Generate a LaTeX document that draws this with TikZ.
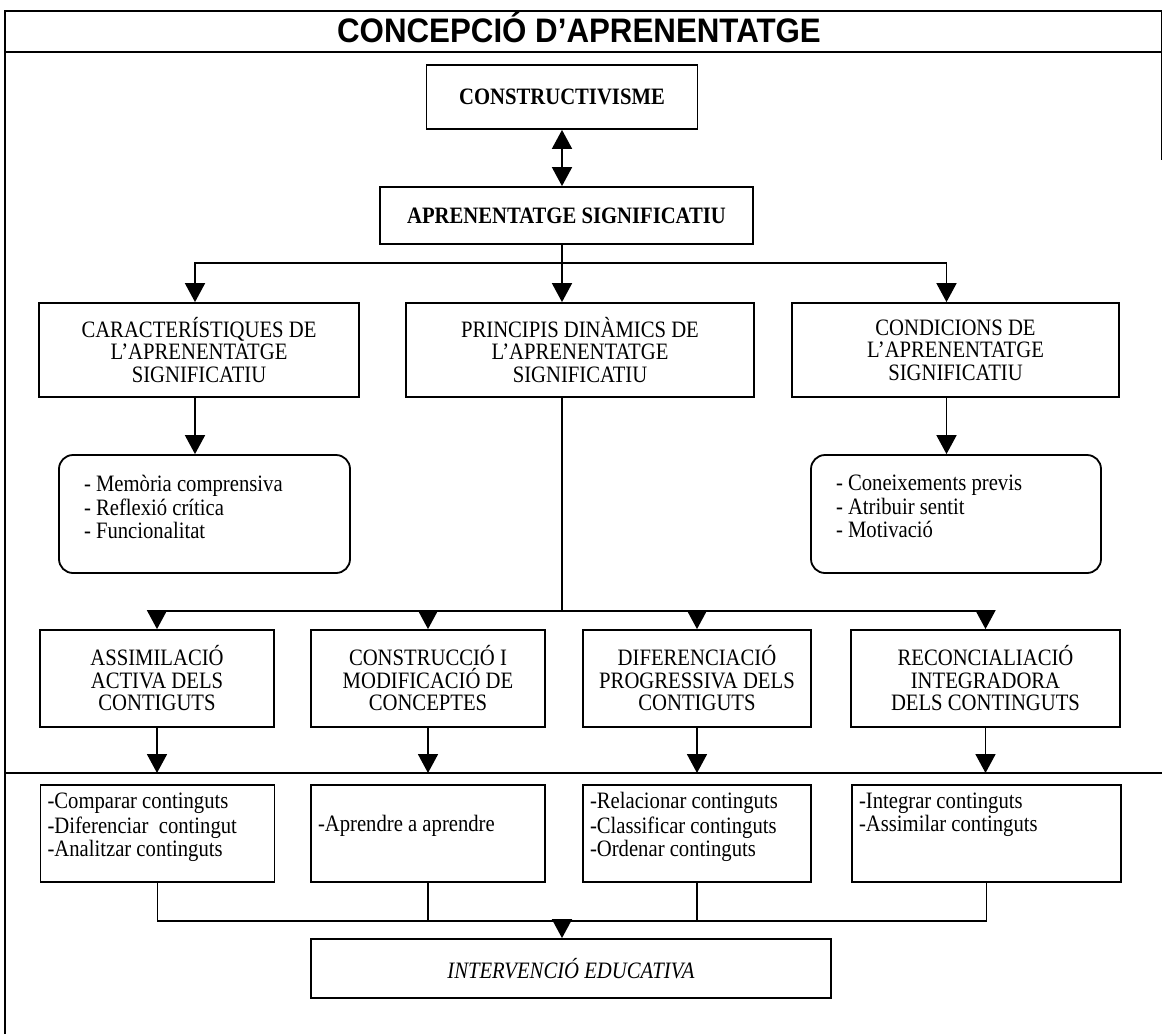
\documentclass[tikz,border=0pt]{standalone}
\usepackage{fontspec}
\setmainfont[FakeStretch=0.88]{Liberation Serif}
\newfontfamily\headfont[FakeStretch=0.92]{Liberation Sans}
\usetikzlibrary{arrows.meta}

% list text set flush left at the top of a box of fixed height
\newcommand{\toplist}[4]{\parbox[c][#1][t]{#2}{\vspace*{#3}\raggedright\strut #4}}

\begin{document}
\begin{tikzpicture}[x=1pt,y=-1pt,
  every node/.style={font=\fontsize{23.5}{22.5}\selectfont},
  framebox/.style={draw, line width=1.8pt, inner sep=0pt, align=center},
  roundbox/.style={framebox, rounded corners=14pt, inner xsep=25pt},
  listbox/.style={framebox, inner xsep=7pt, font=\fontsize{23.5}{23.5}\selectfont},
  conn/.style={line width=1.8pt, line cap=rect},
  arr/.style={line width=1.8pt, -{Triangle[width=20pt,length=19pt]}},
  twoway/.style={line width=1.8pt, {Triangle[width=20pt,length=19pt]}-{Triangle[width=20pt,length=19pt]}},
  frameline/.style={line width=1.8pt}
]
\useasboundingbox (0,0) rectangle (1162,1034);

% outer frame, title band and lower separator
\draw[frameline] (5,1034) -- (5,11) -- (1162,11);
\draw[frameline] (5,52) -- (1162,52);
\draw[line width=1pt] (1161,11) -- (1161,160);
\coordinate (sepL) at (5,773);
\coordinate (sepR) at (1162,773);
\draw[frameline] (sepL) -- (sepR);

\node[font=\headfont\bfseries\fontsize{34}{34}\selectfont, anchor=base] (title) at (579,42) {CONCEPCIÓ D’APRENENTATGE};

% top of the hierarchy
\node[framebox, minimum width=271pt, minimum height=64pt] (constr) at (562,97) {\textbf{CONSTRUCTIVISME}};
\node[framebox, minimum width=373pt, minimum height=57pt] (apren) at (566.5,215.5) {\textbf{APRENENTATGE SIGNIFICATIU}};

% three branches
\node[framebox, minimum width=320pt, minimum height=94pt] (caract) at (199,350) {CARACTERÍSTIQUES DE\\L'APRENENTATGE\\SIGNIFICATIU};
\node[framebox, minimum width=348pt, minimum height=94pt] (princ) at (580,350) {PRINCIPIS DINÀMICS DE\\L'APRENENTATGE\\SIGNIFICATIU};
\node[framebox, minimum width=327pt, minimum height=94pt] (cond) at (955.5,350) {CONDICIONS DE\\L'APRENENTATGE\\SIGNIFICATIU};

\node[roundbox] (memo) at (204.5,514) {\toplist{118pt}{241pt}{20pt}{- Memòria comprensiva\\- Reflexió crítica\\- Funcionalitat}};
\node[roundbox] (condlist) at (956,514) {\toplist{118pt}{240pt}{20pt}{- Coneixements previs\\- Atribuir sentit\\- Motivació}};

% dynamic principles
\node[framebox, minimum width=234pt, minimum height=97pt] (a1) at (157,678.5) {ASSIMILACIÓ\\ACTIVA DELS\\CONTIGUTS};
\node[framebox, minimum width=234pt, minimum height=97pt] (a2) at (428,678.5) {CONSTRUCCIÓ I\\MODIFICACIÓ DE\\CONCEPTES};
\node[framebox, minimum width=228pt, minimum height=97pt] (a3) at (697,678.5) {DIFERENCIACIÓ\\PROGRESSIVA DELS\\CONTIGUTS};
\node[framebox, minimum width=269pt, minimum height=97pt] (a4) at (985.5,678.5) {RECONCIALIACIÓ\\INTEGRADORA\\DELS CONTINGUTS};

% activities
\node[listbox] (b1) at (157.5,833.5) {\toplist{97pt}{220pt}{7pt}{-Comparar continguts\\-Diferenciar~ contingut\\-Analitzar continguts}};
\node[listbox] (b2) at (428,833.5) {\toplist{97pt}{220pt}{7pt}{\\-Aprendre a aprendre}};
\node[listbox] (b3) at (697,833.5) {\toplist{97pt}{214pt}{7pt}{-Relacionar continguts\\-Classificar continguts\\-Ordenar continguts}};
\node[listbox] (b4) at (986.5,833.5) {\toplist{97pt}{255pt}{7pt}{-Integrar continguts\\-Assimilar continguts}};

\node[framebox, minimum width=520pt, minimum height=59pt] (interv) at (571,968.5) {\textit{INTERVENCIÓ EDUCATIVA}};

% connectors
\coordinate (j1) at (562,263);
\coordinate (j2) at (562,611);
\coordinate (j3) at (562,921);
\coordinate (caractin) at ([xshift=-4pt]caract.north);
\coordinate (condin) at ([xshift=-9pt]cond.north);

\draw[twoway] (constr.south) -- (constr.south |- apren.north);
\draw[conn] (j1 |- apren.south) -- (j1);
\draw[conn] (caractin |- j1) -- (condin |- j1);
\draw[arr] (caractin |- j1) -- (caractin);
\draw[arr] (j1) -- (j1 |- princ.north);
\draw[arr] (condin |- j1) -- (condin);
\draw[arr] (caractin |- caract.south) -- (caractin |- memo.north);
\draw[arr] (condin |- cond.south) -- (condin |- condlist.north);

\draw[conn] (j2 |- princ.south) -- (j2);
\draw[conn] (a1.north |- j2) -- (a4.north |- j2);
\foreach \n in {a1,a2,a3,a4} {
  \draw[arr] (\n.north |- j2) -- (\n.north);
  \draw[arr] (\n.south) -- (\n.south |- sepL);
}
\foreach \n in {b1,b2,b3,b4} {
  \draw[conn] (\n.south) -- (\n.south |- j3);
}
\draw[conn] (b1.south |- j3) -- (b4.south |- j3);
\draw[arr] (j3) -- (j3 |- interv.north);
\end{tikzpicture}
\end{document}
